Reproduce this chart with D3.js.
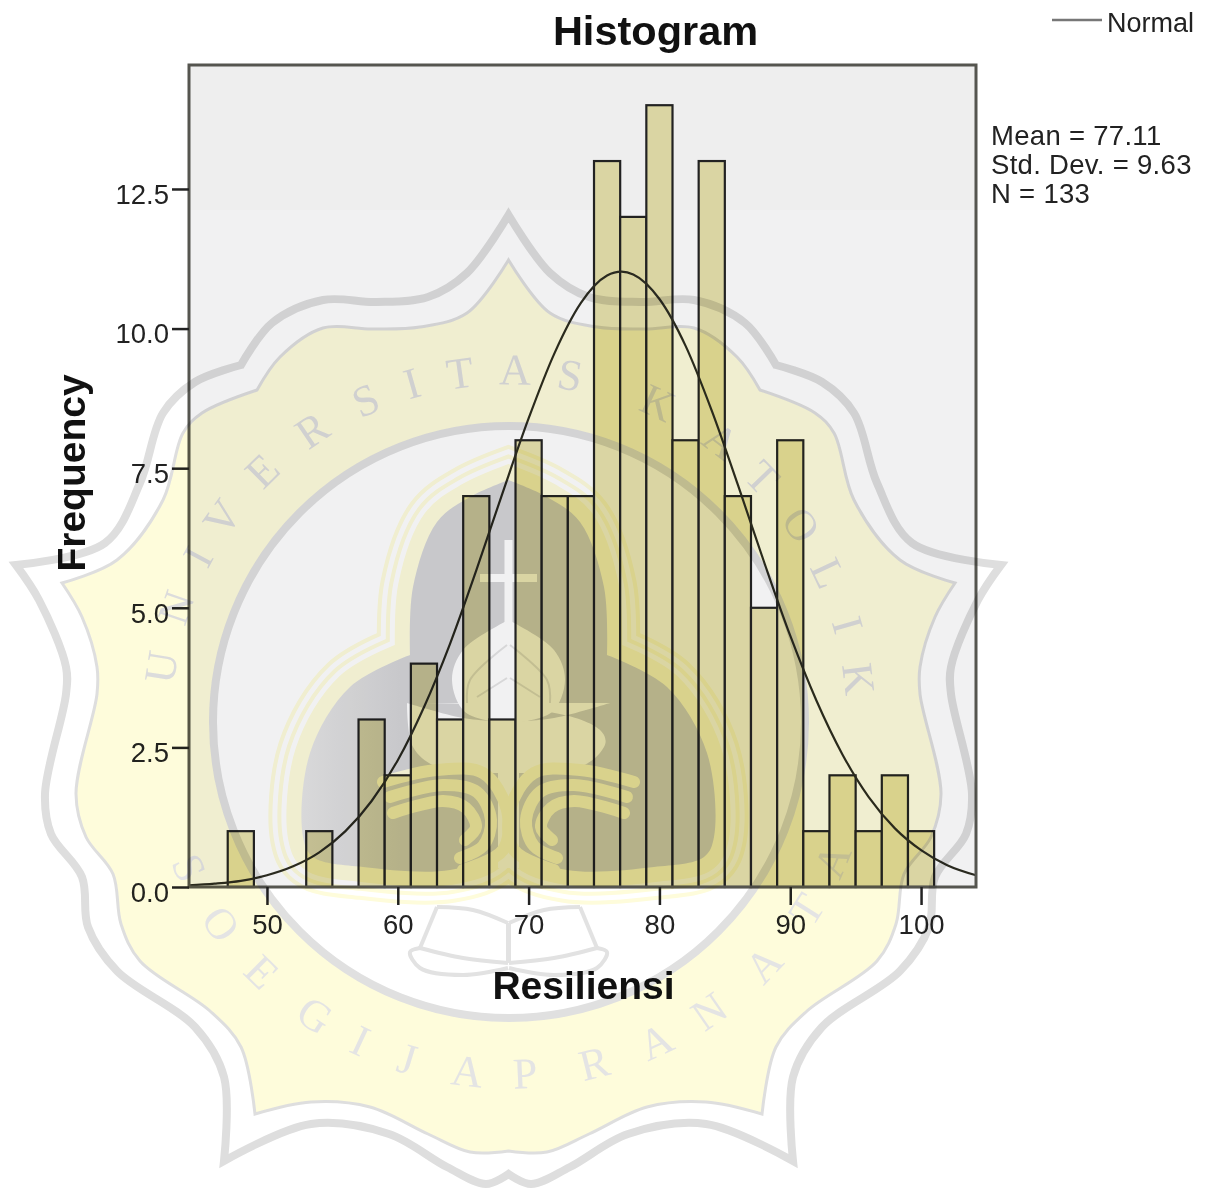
<!DOCTYPE html>
<html>
<head>
<meta charset="utf-8">
<style>
html,body{margin:0;padding:0;background:#fff;}
svg{display:block;filter:blur(0.6px);}
text{font-family:"Liberation Sans",Arial,sans-serif;}
</style>
<script src="https://cdn.jsdelivr.net/npm/d3@7"></script>
</head>
<body>
<svg id="chart" width="1213" height="1194"></svg>
<script>
// ---- chart data ----
const binStarts = [47,49,51,53,55,57,59,61,63,65,67,69,71,73,75,77,79,81,83,85,87,89,91,93,95,97,99];
const binCounts = [1,0,0,1,0,3,2,4,3,7,3,8,7,7,13,12,14,8,13,7,5,8,1,2,1,2,1];
const binWidth = 2;
const curveX = [44,46,48,50,52,54,56,58,60,62,64,66,68,70,72,74,76,77.1,78,80,82,84,86,88,90,92,94,96,98,100,102,104.2];
const curveY = [0.03,0.06,0.11,0.21,0.37,0.62,1.0,1.54,2.27,3.22,4.36,5.67,7.05,8.39,9.57,10.46,10.95,11.02,10.97,10.53,9.69,8.53,7.2,5.82,4.5,3.34,2.37,1.61,1.05,0.66,0.39,0.21];
const xTicks = [50,60,70,80,90,100];
const yTicks = [0,2.5,5,7.5,10,12.5];
const statLines = ["Mean = 77.11","Std. Dev. = 9.63","N = 133"];
const titleText = "Histogram", xTitle = "Resiliensi", yTitle = "Frequency", legendText = "Normal";

// ---- watermark lettering (angle in degrees round the seal) ----
const upperLetters = ["U","N","I","V","E","R","S","I","T","A","S","K","A","T","O","L","I","K"];
const upperAngles  = [-81,-71,-62,-54.5,-44.5,-34,-24,-16,-8,1,10,25,37,46,56,65,74,83];
const lowerLetters = ["S","O","E","G","I","J","A","P","R","A","N","A","T","A"];
const lowerAngles  = [-65.5,-55,-44.7,-33.5,-25,-16.8,-6.8,2.6,14,24.7,34.7,46.4,57.8,66.8];

// ---- watermark outline (left half, corner to corner) ----
const outerHalf = [
 [[508.5,215],[467,273],[428,297],[376,302],[323,300],[272,323],[241,365]],
 [[241,365],[195,382],[163,413],[140,483],[105,543],[16,565]],
 [[16,565],[39,600],[66,667],[66,694],[45,794],[51,834],[82,877],[88,927],[117,971],[195,1027],[224,1077],[224,1161]],
 [[224,1161],[311,1124],[389,1134],[447,1167],[486,1184],[508.5,1174]]
];
const innerHalf = [
 [[508.5,260],[467,313],[420,327],[372,329],[323,328],[280,357],[257,390]],
 [[257,390],[202,413],[183,433],[163,500],[117,560],[62,583]],
 [[62,583],[82,617],[97,667],[97,694],[76,794],[86,837],[113,874],[121,924],[140,961],[210,1011],[241,1047],[255,1114]],
 [[255,1114],[311,1102],[370,1107],[428,1134],[470,1152],[508.5,1151]]
];
const archHalf = [
 [[508.5,480],[470,497],[437,522],[413,587],[410,655]],
 [[410,655],[350,687],[310,753],[303,837],[313,857],[363,867],[450,870],[495,852],[503,810],[508.5,775]]
];
const swirls = [
 [[383,782],[437,770],[483,773],[507,810],[503,850],[463,870]],
 [[390,797],[443,785],[477,792],[491,820],[483,846],[460,858]],
 [[393,813],[443,801],[466,808],[476,827],[465,840]]
];
const bowl = [[[407,703],[463,718],[508.5,722]],[[508.5,722],[508.5,773]],[[508.5,773],[437,767],[413,747],[407,703]]];
const flame = [[[508.5,620],[463,650],[452,680],[465,712],[508.5,724]]];
const leafLines = [[[507,645],[470,680],[467,703]],[[507,678],[477,697]]];
const bookLines = [
 [[437,907],[473,910],[508,923]],[[437,907],[420,948]],[[420,948],[463,958],[508,963]],[[508,923],[508,963]],
 [[420,948],[410,952],[420,968],[463,975],[508,968]]
];

// ---- chart ----
const svg = d3.select("#chart");
const plot = {l:189,r:976,t:65,b:887};
const x = d3.scaleLinear().domain([44.04,104.2]).range([plot.l,plot.r]);
const y = d3.scaleLinear().domain([0,14.72]).range([plot.b,plot.t]);
const ink = "#222";

svg.append("rect").attr("x",plot.l).attr("y",plot.t).attr("width",plot.r-plot.l).attr("height",plot.b-plot.t).attr("fill","#f1f1f2");
svg.append("rect").attr("x",plot.l).attr("y",plot.t).attr("width",plot.r-plot.l).attr("height",145).attr("fill","#eeeeee");

const bins = binStarts.map((s,i)=>({s,c:binCounts[i]})).filter(d=>d.c>0);
svg.append("g").selectAll("rect").data(bins).join("rect")
  .attr("x",d=>x(d.s)).attr("width",d=>x(d.s+binWidth)-x(d.s))
  .attr("y",d=>y(d.c)).attr("height",d=>y(0)-y(d.c))
  .attr("fill","#dad5a3").attr("stroke",ink).attr("stroke-width",2.2);

svg.append("path").datum(curveX.map((v,i)=>[v,curveY[i]]))
  .attr("fill","none").attr("stroke","#2a2a20").attr("stroke-width",2.2)
  .attr("d",d3.line().x(d=>x(d[0])).y(d=>y(d[1])).curve(d3.curveMonotoneX));

svg.append("rect").attr("x",plot.l).attr("y",plot.t).attr("width",plot.r-plot.l).attr("height",plot.b-plot.t)
  .attr("fill","none").attr("stroke","#55554f").attr("stroke-width",3);

const yAxis = svg.append("g").attr("transform",`translate(${plot.l},0)`)
  .call(d3.axisLeft(y).tickValues(yTicks).tickFormat(d3.format(".1f")).tickSize(17).tickPadding(3));
const xAxis = svg.append("g").attr("transform",`translate(0,${plot.b})`)
  .call(d3.axisBottom(x).tickValues(xTicks).tickFormat(d3.format("d")).tickSize(18).tickPadding(9));
[yAxis,xAxis].forEach(a=>{
  a.select(".domain").remove();
  a.selectAll("line").attr("stroke",ink).attr("stroke-width",2.5);
  a.selectAll("text").attr("fill",ink).style("font-size","27.5px").style("font-family",'"Liberation Sans",Arial,sans-serif');
});
yAxis.selectAll("text").attr("dy","0.52em");

svg.append("text").attr("x",655.5).attr("y",45).attr("text-anchor","middle").attr("font-weight","bold").attr("font-size",41.5).attr("fill","#111").text(titleText);
svg.append("text").attr("x",583.5).attr("y",999).attr("text-anchor","middle").attr("font-weight","bold").attr("font-size",39).attr("fill","#111").text(xTitle);
svg.append("text").attr("transform","translate(85,473) rotate(-90)").attr("text-anchor","middle").attr("font-weight","bold").attr("font-size",39).attr("fill","#111").text(yTitle);

svg.append("line").attr("x1",1052).attr("x2",1102).attr("y1",20).attr("y2",20).attr("stroke","#777").attr("stroke-width",2.5);
svg.append("text").attr("x",1107).attr("y",32).attr("font-size",27).attr("fill",ink).text(legendText);
svg.append("g").selectAll("text").data(statLines).join("text")
  .attr("x",991).attr("y",(d,i)=>145+i*29).attr("font-size",27.5).attr("letter-spacing",0.3).attr("fill",ink).text(d=>d);

// ---- watermark, multiplied over everything ----
const axisX = 508.5;
const mirror = p => [2*axisX-p[0],p[1]];
const spline = d3.line().curve(d3.curveCatmullRom.alpha(0.5));
const segPath = (seg,first) => {
  const s = seg.length>2 ? spline(seg) : d3.line()(seg);
  return first ? s : s.replace(/^M[^CL]*/,"");
};
function closedFromHalf(half){
  const right = half.slice().reverse().map(seg=>seg.slice().reverse().map(mirror));
  const all = half.concat(right);
  return all.map((seg,i)=>segPath(seg,i===0)).join("")+"Z";
}
const defs = svg.append("defs");
const grad = defs.append("linearGradient").attr("id","archGrey").attr("gradientUnits","userSpaceOnUse")
  .attr("x1",300).attr("x2",400).attr("y1",0).attr("y2",0);
[[0,"#e6e6e6"],[1,"#d4d4d6"]].forEach(([o,c])=>grad.append("stop").attr("offset",o).attr("stop-color",c));

const wm = svg.append("g").style("mix-blend-mode","multiply");
const yellow = "#fefcdb", greyLine = "#dedede";
const cx = 509, cy = 722, ringR = 296;
const circlePath = `M${cx-ringR},${cy}a${ringR},${ringR} 0 1,0 ${2*ringR},0a${ringR},${ringR} 0 1,0 ${-2*ringR},0Z`;

wm.append("path").attr("d",closedFromHalf(innerHalf)+circlePath).attr("fill-rule","evenodd")
  .attr("fill",yellow);
wm.append("path").attr("d",closedFromHalf(innerHalf)).attr("fill","none").attr("stroke",greyLine).attr("stroke-width",3);
wm.append("path").attr("d",closedFromHalf(outerHalf)).attr("fill","none").attr("stroke",greyLine).attr("stroke-width",8).attr("stroke-linejoin","miter");
wm.append("path").attr("d",circlePath).attr("fill","none").attr("stroke","#e0e0e0").attr("stroke-width",8);

// the arch with its concentric bands
const archD = closedFromHalf(archHalf);
[[66,yellow],[58,"#fff"],[48,yellow],[40,"#fff"],[30,yellow]].forEach(([w,c])=>{
  wm.append("path").attr("d",archD).attr("fill","none").attr("stroke",c).attr("stroke-width",w)
    .attr("stroke-linejoin","miter").attr("stroke-miterlimit",8);
});
wm.append("path").attr("d",archD).attr("fill","url(#archGrey)");

// flame, bowl, cross, centre column
const both = f => { f(d=>d); f(mirror); };
wm.append("path").attr("d",closedFromHalf(flame)).attr("fill","#fff");
wm.append("path").attr("d",closedFromHalf(bowl)).attr("fill","#fff");
wm.append("path").attr("d","M498,765V868H519V765Z").attr("fill","#fff");
wm.append("path").attr("d",`M508.5,540V627M480,578H537`).attr("stroke","#fff").attr("stroke-width",8).attr("fill","none");
both(f=>leafLines.forEach(l=>wm.append("path").attr("d",spline(l.map(f))).attr("fill","none").attr("stroke","#e4e4e4").attr("stroke-width",2)));
both(f=>swirls.forEach(l=>wm.append("path").attr("d",spline(l.map(f))).attr("fill","none").attr("stroke",yellow).attr("stroke-width",12).attr("stroke-linecap","round")));

// book
both(f=>bookLines.forEach(l=>wm.append("path").attr("d",spline(l.map(f))).attr("fill","none").attr("stroke","#e2e2e2").attr("stroke-width",4)));

// lettering
const letterR = 352, rad = Math.PI/180;
wm.append("g").selectAll("text").data(upperLetters).join("text")
  .attr("transform",(d,i)=>{const a=upperAngles[i];return `translate(${cx+letterR*Math.sin(a*rad)},${cy-letterR*Math.cos(a*rad)}) rotate(${a})`;})
  .attr("text-anchor","middle").attr("dy","0.33em").attr("fill","#dcdcdc").attr("font-size",44)
  .style("font-family",'"Liberation Serif",serif').text(d=>d);
wm.append("g").selectAll("text").data(lowerLetters).join("text")
  .attr("transform",(d,i)=>{const a=lowerAngles[i];return `translate(${cx+letterR*Math.sin(a*rad)},${cy+letterR*Math.cos(a*rad)}) rotate(${-a})`;})
  .attr("text-anchor","middle").attr("dy","0.33em").attr("fill","#e4e4e4").attr("font-size",44)
  .style("font-family",'"Liberation Serif",serif').text(d=>d);
</script>
</body>
</html>
